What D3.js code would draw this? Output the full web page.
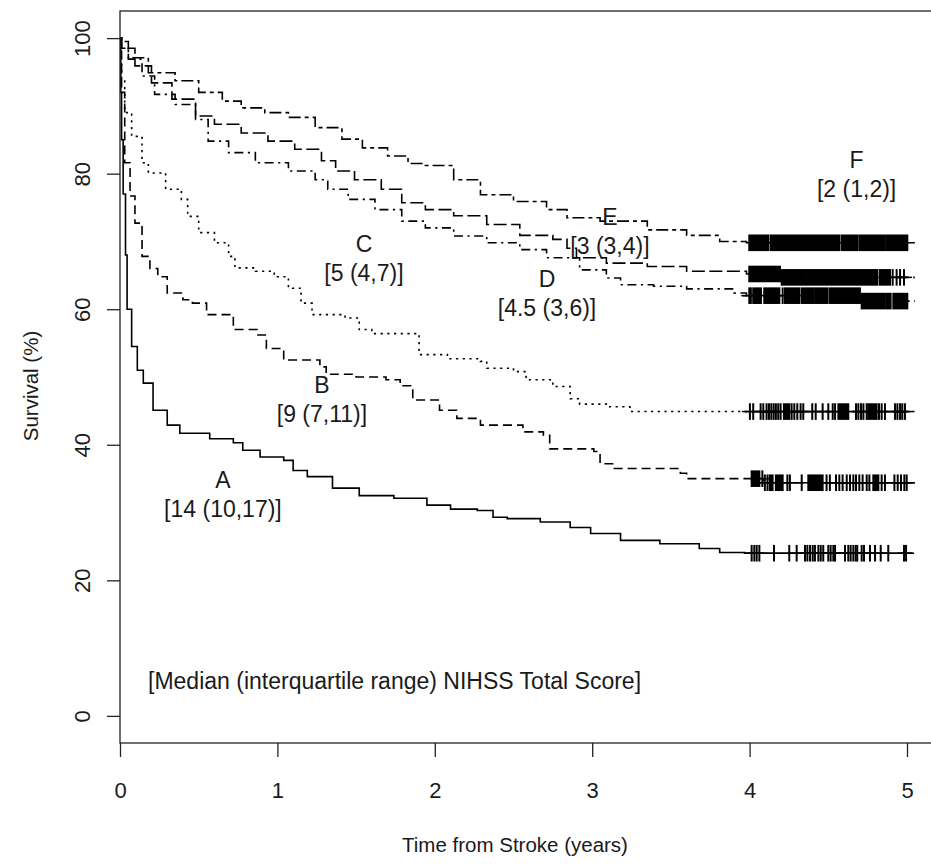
<!DOCTYPE html>
<html>
<head>
<meta charset="utf-8">
<script src="https://cdn.jsdelivr.net/npm/d3@7"></script>
<style>
  body { margin: 0; background: #fff; }
  svg { display: block; }
  text { font-family: "Liberation Sans", Arial, sans-serif; fill: #1a1a1a; }
</style>
</head>
<body>
<div id="chart"></div>
<script>
// Kaplan-Meier curves by NIHSS group
var groups = ["A", "B", "C", "D", "E", "F"];
var scoreLabels = ["[14 (10,17)]", "[9 (7,11)]", "[5 (4,7)]", "[4.5 (3,6)]", "[3 (3,4)]", "[2 (1,2)]"];

var timeA = [0, 0.005, 0.01, 0.02, 0.035, 0.045, 0.074, 0.11, 0.148, 0.21, 0.30, 0.38, 0.57, 0.72, 0.78, 0.89, 1.04, 1.10, 1.19, 1.35, 1.52, 1.74, 1.95, 2.10, 2.27, 2.37, 2.46, 2.67, 2.86, 2.99, 3.18, 3.43, 3.68, 3.81, 3.97, 5.04];
var survA = [100, 92, 85, 77, 68, 60, 54.5, 51, 49.1, 45.1, 42.9, 41.7, 40.9, 40.3, 39.2, 38.2, 37.7, 36.2, 35.3, 33.6, 32.5, 32.1, 31.1, 30.5, 30.3, 29.3, 29.1, 28.6, 27.8, 26.9, 25.9, 25.4, 24.7, 24.1, 24.0, 24.0];

var timeB = [0, 0.01, 0.03, 0.064, 0.095, 0.14, 0.19, 0.24, 0.30, 0.40, 0.46, 0.55, 0.72, 0.87, 0.93, 1.04, 1.27, 1.31, 1.50, 1.69, 1.78, 1.86, 2.03, 2.14, 2.29, 2.56, 2.69, 2.73, 3.01, 3.05, 3.13, 3.56, 3.60, 4.09, 5.05];
var survB = [100, 92, 81.6, 76.7, 72.7, 67.8, 66.0, 64.8, 62.4, 61.4, 60.9, 59.2, 57.0, 56.2, 54.2, 52.5, 51.5, 50.4, 50.0, 49.6, 48.7, 46.6, 45.1, 43.9, 42.9, 41.9, 41.4, 39.4, 39.0, 37.2, 36.5, 35.8, 35.0, 34.4, 34.4];

var timeC = [0, 0.005, 0.01, 0.03, 0.074, 0.14, 0.18, 0.29, 0.39, 0.43, 0.50, 0.60, 0.69, 0.73, 0.86, 0.98, 1.07, 1.15, 1.22, 1.43, 1.52, 1.60, 1.90, 2.08, 2.29, 2.33, 2.50, 2.58, 2.75, 2.86, 2.92, 3.09, 3.24, 5.05];
var survC = [100, 97, 94, 89, 85.5, 81.6, 80.1, 77.7, 76.2, 73.7, 71.3, 69.8, 67.8, 66.1, 65.6, 64.8, 63.1, 60.9, 59.2, 58.7, 57.0, 56.4, 53.3, 52.7, 52.3, 51.3, 50.8, 49.6, 48.6, 46.8, 46.0, 45.6, 44.9, 44.9];

var timeD = [0, 0.01, 0.053, 0.14, 0.22, 0.35, 0.48, 0.56, 0.69, 0.86, 1.07, 1.24, 1.32, 1.45, 1.62, 1.79, 1.94, 2.12, 2.33, 2.54, 2.71, 2.92, 3.09, 3.18, 3.39, 3.60, 3.90, 3.98, 4.71, 5.05];
var survD = [100, 98.5, 96.9, 94.4, 91.7, 90.2, 88.0, 84.8, 83.1, 81.6, 80.4, 79.1, 77.7, 76.2, 74.7, 73.0, 72.0, 70.8, 69.8, 68.8, 67.6, 65.8, 64.6, 63.6, 63.4, 63.0, 62.4, 62.0, 61.2, 61.2];

var timeE = [0, 0.01, 0.095, 0.20, 0.33, 0.48, 0.60, 0.77, 0.94, 1.11, 1.28, 1.37, 1.49, 1.66, 1.79, 1.94, 2.12, 2.33, 2.54, 2.75, 2.84, 2.90, 3.09, 3.35, 3.60, 3.98, 4.20, 5.05];
var survE = [100, 98.5, 95.9, 93.4, 91.0, 88.5, 87.3, 86.0, 84.8, 83.6, 81.9, 80.4, 79.1, 77.7, 75.7, 74.7, 73.8, 72.5, 70.9, 70.3, 69.0, 67.6, 66.8, 66.3, 65.6, 65.2, 64.7, 64.7];

var timeF = [0, 0.01, 0.053, 0.18, 0.35, 0.50, 0.65, 0.77, 0.92, 1.07, 1.24, 1.41, 1.54, 1.70, 1.83, 1.94, 2.12, 2.29, 2.50, 2.71, 2.84, 3.05, 3.35, 3.60, 3.81, 3.98, 5.05];
var survF = [100, 99.5, 97.1, 94.9, 93.7, 92.0, 90.7, 89.7, 89.0, 88.3, 86.8, 85.1, 83.8, 82.6, 81.5, 81.2, 79.1, 76.9, 75.9, 74.7, 73.5, 73.0, 71.7, 70.9, 70.0, 69.8, 69.8];

// censoring times (single marks) and runs of marks so dense they merge
var censorA = [4.013, 4.030, 4.045, 4.062, 4.155, 4.252, 4.299, 4.352, 4.367, 4.384, 4.401, 4.415, 4.437, 4.452, 4.468, 4.500, 4.515, 4.532, 4.543, 4.606, 4.627, 4.642, 4.659, 4.674, 4.684, 4.712, 4.727, 4.765, 4.797, 4.833, 4.881, 4.981, 4.994];
var censorRunsA = [];
var censorB = [4.081, 4.097, 4.114, 4.240, 4.256, 4.331, 4.489, 4.510, 4.549, 4.570, 4.591, 4.617, 4.638, 4.659, 4.676, 4.697, 4.718, 4.744, 4.761, 4.839, 4.860, 4.920, 4.941, 4.962, 4.983, 4.998];
var censorRunsB = [[4.013, 4.062], [4.129, 4.146], [4.167, 4.210], [4.373, 4.464], [4.786, 4.818]];
var censorC = [4.002, 4.023, 4.070, 4.087, 4.108, 4.123, 4.138, 4.153, 4.167, 4.182, 4.197, 4.267, 4.284, 4.303, 4.324, 4.341, 4.398, 4.420, 4.464, 4.500, 4.528, 4.543, 4.676, 4.691, 4.708, 4.723, 4.744, 4.822, 4.839, 4.860, 4.924, 4.939, 4.956, 4.970, 4.987];
var censorRunsC = [[4.218, 4.252], [4.564, 4.627], [4.754, 4.807]];
var censorD = [3.998, 4.008, 4.210];
var censorRunsD = [[4.023, 4.072], [4.093, 4.189], [4.225, 4.316], [4.331, 4.405], [4.416, 4.496], [4.511, 4.701], [4.712, 4.854], [4.867, 4.896], [4.913, 5.002]];
var censorE = [4.909, 4.934, 4.956, 4.981];
var censorRunsE = [[3.998, 4.193], [4.204, 4.358], [4.367, 4.812], [4.828, 4.892]];
var censorF = [];
var censorRunsF = [[3.998, 4.119], [4.134, 4.570], [4.585, 4.684], [4.697, 4.854], [4.867, 5.002]];

var xTicks = [0, 1, 2, 3, 4, 5];
var yTicks = [0, 20, 40, 60, 80, 100];

// where R put each group's text (data coords)
var labelAt = [[0.654, 33.6], [1.283, 47.6], [1.55, 68.5], [2.713, 63.3], [3.113, 72.5], [4.68, 80.9]];

var series = [
  { time: timeA, surv: survA, cens: censorA, runs: censorRunsA, dash: null },
  { time: timeB, surv: survB, cens: censorB, runs: censorRunsB, dash: "9,5" },
  { time: timeC, surv: survC, cens: censorC, runs: censorRunsC, dash: "2.2,4.5" },
  { time: timeD, surv: survD, cens: censorD, runs: censorRunsD, dash: "2.2,4.5,9,4.5" },
  { time: timeE, surv: survE, cens: censorE, runs: censorRunsE, dash: "13,4.5" },
  { time: timeF, surv: survF, cens: censorF, runs: censorRunsF, dash: "4,4,12,4" }
];

var svgWidth = 931, svgHeight = 867;
var plot = { left: 120, top: 11, bottom: 743 };

var svg = d3.select("#chart").append("svg")
  .attr("width", svgWidth)
  .attr("height", svgHeight);

// R style: x from 0 with 4% on the right, y padded 4% both ends
var x = d3.scaleLinear().domain([0, 5.2]).range([plot.left, plot.left + 5.2 * 157.4]);
var y = d3.scaleLinear().domain([-4, 104]).range([plot.bottom, plot.top]);

function survAt(s, t) {
  var v = s.surv[0];
  for (var i = 0; i < s.time.length; i++) {
    if (s.time[i] <= t) v = s.surv[i];
  }
  return v;
}

var line = d3.line()
  .x(d => x(d[0]))
  .y(d => y(d[1]))
  .curve(d3.curveStepAfter);

series.forEach(function(s) {
  var pts = s.time.map((t, i) => [t, s.surv[i]]);
  svg.append("path")
    .attr("d", line(pts))
    .attr("fill", "none")
    .attr("stroke", "#000")
    .attr("stroke-width", 1.6)
    .attr("stroke-dasharray", s.dash);

  // merged censor runs
  svg.append("g").selectAll("rect")
    .data(s.runs)
    .enter()
    .append("rect")
    .attr("x", d => x(d[0]) - 1)
    .attr("width", d => x(d[1]) - x(d[0]) + 2)
    .attr("y", d => y(survAt(s, d[0])) - 8.3)
    .attr("height", 16.6)
    .attr("fill", "#000");

  // single censor marks, pch "+"
  var marks = svg.append("g").selectAll("g")
    .data(s.cens)
    .enter()
    .append("g")
    .attr("transform", d => `translate(${x(d)},${y(survAt(s, d))})`);
  marks.append("line").attr("y1", -8.3).attr("y2", 8.3)
    .attr("stroke", "#000").attr("stroke-width", 2);
  marks.append("line").attr("x1", -8).attr("x2", 8)
    .attr("stroke", "#000").attr("stroke-width", 1.5);
});

// box
svg.append("rect")
  .attr("x", plot.left)
  .attr("y", plot.top)
  .attr("width", x(5.2) - plot.left)
  .attr("height", plot.bottom - plot.top)
  .attr("fill", "none")
  .attr("stroke", "#222")
  .attr("stroke-width", 1.3);

// axes
var xAxis = svg.append("g")
  .attr("transform", `translate(0,${plot.bottom})`)
  .call(d3.axisBottom(x).tickValues(xTicks).tickSize(14).tickSizeOuter(0).tickFormat(d3.format("d")));
xAxis.select(".domain").remove();
xAxis.selectAll("line").attr("stroke", "#222").attr("stroke-width", 1.3);
xAxis.selectAll("text")
  .attr("y", 55).attr("dy", 0)
  .attr("font-size", "22px")
  .attr("font-family", null)
  .style("fill", "#1a1a1a");

var yAxis = svg.append("g")
  .attr("transform", `translate(${plot.left},0)`)
  .call(d3.axisLeft(y).tickValues(yTicks).tickSize(13).tickSizeOuter(0).tickFormat(d3.format("d")));
yAxis.select(".domain").remove();
yAxis.selectAll("line").attr("stroke", "#222").attr("stroke-width", 1.3);
yAxis.selectAll("text")
  .attr("x", 0).attr("dy", 0)
  .attr("transform", "translate(-30,0) rotate(-90)")
  .attr("text-anchor", "middle")
  .attr("font-size", "22px")
  .attr("font-family", null)
  .style("fill", "#1a1a1a");

// axis titles
svg.append("text")
  .attr("x", 515)
  .attr("y", 852)
  .attr("text-anchor", "middle")
  .attr("font-size", "20.5px")
  .text("Time from Stroke (years)");

svg.append("text")
  .attr("transform", `translate(38,386) rotate(-90)`)
  .attr("text-anchor", "middle")
  .attr("font-size", "20.5px")
  .text("Survival (%)");

// group labels
groups.forEach(function(g, i) {
  var lx = x(labelAt[i][0]), ly = y(labelAt[i][1]);
  svg.append("text")
    .attr("x", lx).attr("y", ly)
    .attr("text-anchor", "middle")
    .attr("font-size", "23px")
    .text(g);
  svg.append("text")
    .attr("x", lx).attr("y", ly + 29)
    .attr("text-anchor", "middle")
    .attr("font-size", "23px")
    .text(scoreLabels[i]);
});

svg.append("text")
  .attr("x", x(0.178))
  .attr("y", y(3.9))
  .attr("font-size", "23px")
  .text("[Median (interquartile range) NIHSS Total Score]");
</script>
</body>
</html>
